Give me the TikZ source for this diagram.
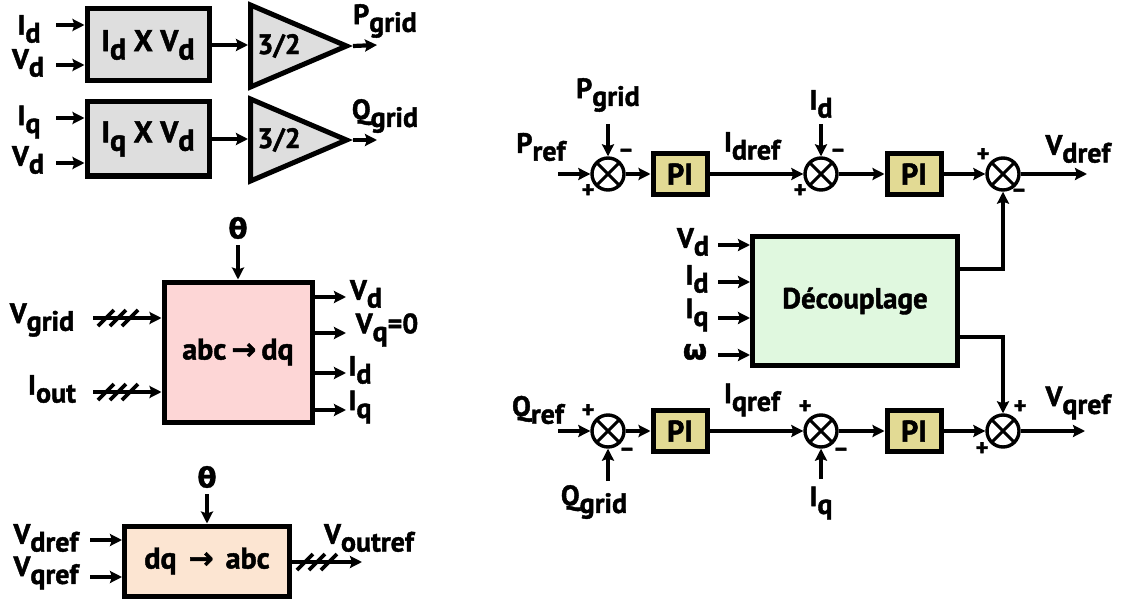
\documentclass[tikz,border=0pt]{standalone}
\usepackage{fontspec}
\usepackage{graphicx}
\setmainfont{PT Sans}[BoldFeatures={FakeBold=1.5}]
\newfontfamily\symf{DejaVu Sans}[BoldFeatures={FakeBold=1.5}]
\usetikzlibrary{arrows.meta,positioning,shapes.geometric}
\definecolor{boxgray}{HTML}{DEDEDE}
\definecolor{dqpink}{HTML}{FDD6D6}
\definecolor{abcpeach}{HTML}{FCE5D2}
\definecolor{decgreen}{HTML}{E0F8DF}
\definecolor{pikhaki}{HTML}{E2DA94}
\newcommand{\lo}[1]{\raisebox{-0.28em}{#1}}

\begin{document}
\begin{tikzpicture}[x=1pt,y=-1pt,line width=4.2pt,>={Stealth[length=12pt,width=12pt,inset=2pt]},
  blk/.style={draw,line width=5pt,inner sep=0pt,font=\fontsize{30}{32}\selectfont\bfseries},
  pib/.style={blk,fill=pikhaki,minimum width=54pt,minimum height=41pt,font=\fontsize{30}{30}\selectfont\bfseries},
  gain/.style={draw,isosceles triangle,isosceles triangle stretches,shape border rotate=0,fill=boxgray,line width=5pt,minimum width=82pt,minimum height=96pt,inner sep=0pt,anchor=lower side,font=\fontsize{28}{30}\selectfont\bfseries},
  sum/.style={draw,circle,line width=3.4pt,minimum size=32pt,inner sep=0pt,fill=white,
    path picture={\draw[line width=3pt] (path picture bounding box.north west)--(path picture bounding box.south east)
      (path picture bounding box.north east)--(path picture bounding box.south west);}},
  lab/.style={inner sep=0pt,font=\fontsize{28}{30}\selectfont\bfseries},
  sgn/.style={inner sep=0pt,font=\fontsize{24}{24}\selectfont\bfseries},
  tick/.style={line width=3.6pt}]
\useasboundingbox (0,0) rectangle (1123,604);

% products and gains
\node[blk,fill=boxgray,minimum width=122pt,minimum height=72pt] (m1) at (148,45) {I\lo{d} X V\lo{d}};
\node[blk,fill=boxgray,minimum width=122pt,minimum height=74pt] (m2) at (148,139) {I\lo{q} X V\lo{d}};
\node[gain] (g1) at (248,46) {3/2\hspace{12pt}};
\node[gain] (g2) at (248,140) {3/2\hspace{12pt}};
\coordinate (a1) at (56,25); \coordinate (a2) at (56,65);
\coordinate (a3) at (56,118); \coordinate (a4) at (56,163);
\coordinate (pg) at (377,45); \coordinate (qg) at (377,140);
\node[lab] (l1) at (29,29) {I\lo{d}};
\node[lab] (l2) at (28,63) {V\lo{d}};
\node[lab] (l3) at (29,122) {I\lo{q}};
\node[lab] (l4) at (28,160) {V\lo{d}};
\node[lab] (l5) at (385,21) {P\lo{grid}};
\node[lab] (l6) at (385,116) {Q\lo{grid}};
\draw[->] (a1) -- (a1 -| m1.west);
\draw[->] (a2) -- (a2 -| m1.west);
\draw[->] (a3) -- (a3 -| m2.west);
\draw[->] (a4) -- (a4 -| m2.west);
\draw[->] (m1.east) -- (m1.east -| g1.lower side);
\draw[->] (m2.east) -- (m2.east -| g2.lower side);
\draw[->] (g1.apex) -- (pg);
\draw[->] (g2.apex) -- (qg);

% abc -> dq
\node[blk,fill=dqpink,minimum width=148pt,minimum height=140pt] (t1) at (238,352) {abc\hspace{5pt}{\symf\bfseries →}\hspace{5pt}dq};
\node[lab] (th1) at (238,228) {{\symf\bfseries θ}};
\coordinate (th1a) at (238,245);
\draw[->] (th1a) -- (t1.north);
\node[lab] (vg) at (42,320) {V\lo{grid}};
\node[lab] (io) at (52,389) {I\lo{out}};
\coordinate (b1) at (93,318); \coordinate (b2) at (93,392);
\draw[->] (b1) -- (b1 -| t1.west);
\draw[->] (b2) -- (b2 -| t1.west);
\foreach \sx in {106,118,130} {
  \draw[tick] (\sx-8,326) -- (\sx+8,310);
  \draw[tick] (\sx-8,400) -- (\sx+8,384);
}
\foreach \yy/\txt/\xx [count=\i] in {297/V\lo{d}/366,333/V\lo{q}=0/387,373/I\lo{d}/360,410/I\lo{q}/360} {
  \coordinate (o\i) at (346,\yy);
  \draw[->] (o\i -| t1.east) -- (o\i);
  \node[lab] (ol\i) at (\xx,\yy-3) {\txt};
}

% dq -> abc
\node[blk,fill=abcpeach,minimum width=165pt,minimum height=70pt] (t2) at (207,561) {dq\hspace{12pt}{\symf\bfseries →}\hspace{12pt}abc};
\node[lab] (th2) at (207,477) {{\symf\bfseries θ}};
\coordinate (th2a) at (207,494);
\draw[->] (th2a) -- (t2.north);
\node[lab] (vd) at (46,538) {V\lo{dref}};
\node[lab] (vq) at (46,573) {V\lo{qref}};
\coordinate (c1) at (90,540); \coordinate (c2) at (90,577);
\draw[->] (c1) -- (c1 -| t2.west);
\draw[->] (c2) -- (c2 -| t2.west);
\coordinate (vo) at (362,562);
\draw[->] (t2.east |- vo) -- (vo);
\foreach \sx in {305,317,329} \draw[tick] (\sx-8,570) -- (\sx+8,554);
\node[lab] (vol) at (369,538) {V\lo{outref}};

% d axis loop
\node[sum] (s1) at (608,174) {};
\node[pib] (pi1) at (680,174) {PI};
\node[sum] (s2) at (821,174) {};
\node[pib] (pi2) at (914,174) {PI};
\node[sum] (s3) at (1003,174) {};
\coordinate (pr) at (558,174); \coordinate (vdo) at (1087,174);
\coordinate (pga) at (608,124); \coordinate (ida) at (821,124);
\node[lab] (prl) at (541,147) {P\lo{ref}};
\node[lab] (pgl) at (608,95) {P\lo{grid}};
\node[lab] (idl) at (821,104) {I\lo{d}};
\node[lab] (idrl) at (752,146) {I\lo{dref}};
\node[lab] (vdrl) at (1078,149) {V\lo{dref}};
\draw[->] (pr) -- (s1);
\draw[->] (pga) -- (s1);
\draw[->] (s1) -- (pi1);
\draw[->] (pi1) -- (s2);
\draw[->] (ida) -- (s2);
\draw[->] (s2) -- (pi2);
\draw[->] (pi2) -- (s3);
\draw[->] (s3) -- (vdo);
\node[sgn] at (588,191) {+};
\node[sgn] at (626,153) {--};
\node[sgn] at (800,191) {+};
\node[sgn] at (838,153) {--};
\node[sgn] at (983,155) {+};
\node[sgn] at (1019,193) {--};

% decoupling
\node[blk,fill=decgreen,minimum width=205pt,minimum height=129pt,font=\fontsize{29}{30}\selectfont\bfseries] (dec) at (855,301) {Découplage};
\foreach \yy/\txt/\xx [count=\i] in {245/V\lo{d}/693,282/I\lo{d}/697,318/I\lo{q}/697,355/{{\symf\bfseries ω}}/695} {
  \coordinate (d\i) at (718,\yy);
  \draw[->] (d\i) -- (d\i -| dec.west);
  \node[lab] (dl\i) at (\xx,\yy-3) {\txt};
}
\draw[->] ([yshift=32pt]dec.east) -| (s3.south);

% q axis loop
\node[sum] (s4) at (608,431) {};
\node[pib] (pi3) at (680,431) {PI};
\node[sum] (s5) at (821,431) {};
\node[pib] (pi4) at (914,431) {PI};
\node[sum] (s6) at (1003,431) {};
\draw[->] ([yshift=-36pt]dec.east) -| (s6.north);
\coordinate (qr) at (558,431); \coordinate (vqo) at (1085,431);
\coordinate (qga) at (608,481); \coordinate (iqa) at (821,479);
\node[lab] (qrl) at (538,410) {Q\lo{ref}};
\node[lab] (qgl) at (594,502) {Q\lo{grid}};
\node[lab] (iql) at (821,503) {I\lo{q}};
\node[lab] (iqrl) at (752,400) {I\lo{qref}};
\node[lab] (vqrl) at (1078,403) {V\lo{qref}};
\draw[->] (qr) -- (s4);
\draw[->] (qga) -- (s4);
\draw[->] (s4) -- (pi3);
\draw[->] (pi3) -- (s5);
\draw[->] (iqa) -- (s5);
\draw[->] (s5) -- (pi4);
\draw[->] (pi4) -- (s6);
\draw[->] (s6) -- (vqo);
\node[sgn] at (588,411) {+};
\node[sgn] at (627,452) {--};
\node[sgn] at (805,407) {+};
\node[sgn] at (841,452) {--};
\node[sgn] at (1020,407) {+};
\node[sgn] at (982,449) {+};
\end{tikzpicture}
\end{document}
